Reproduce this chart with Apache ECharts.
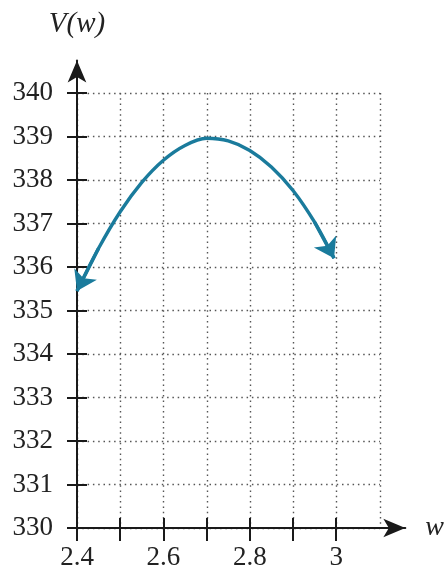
<!DOCTYPE html>
<html>
<head>
<meta charset="utf-8">
<script src="https://cdn.jsdelivr.net/npm/echarts@6/dist/echarts.min.js"></script>
<style>
html,body{margin:0;padding:0;background:#fff;}
#c{width:447px;height:572px;}
</style>
</head>
<body>
<div id="c"></div>
<script>
// ---- data ----
var curveW = [2.4, 2.45, 2.5, 2.55, 2.6, 2.65, 2.7, 2.75, 2.8, 2.85, 2.9, 2.95, 2.995];
var curveV = [335.45, 336.43, 337.27, 337.945, 338.455, 338.795, 338.96, 338.9, 338.68, 338.3, 337.76, 337.03, 336.2];
var xTickValues = [2.4, 2.5, 2.6, 2.7, 2.8, 2.9, 3.0];
var xLabelValues = [2.4, 2.6, 2.8, 3.0];
var yTickValues = [330, 331, 332, 333, 334, 335, 336, 337, 338, 339, 340];
var xName = 'w';
var yName = 'V(w)';
var xMin = 2.4, xMax = 3.1, xStep = 0.1;
var yMin = 330, yMax = 340, yStep = 1;
var xOuterMax = 3.16, yOuterMax = 340.75;

// ---- layout ----
var gLeft = 77, gTop = 93, innerW = 303, innerH = 435;
var pxX = innerW / (xMax - xMin), pxY = innerH / (yMax - yMin);
var outerW = (xOuterMax - xMin) * pxX;
var outerH = (yOuterMax - yMin) * pxY;
var outerTop = gTop + innerH - outerH;

var curveColor = '#1a7b9c';
var axisColor = '#1a1a1a';
var serif = '"Liberation Serif", "DejaVu Serif", serif';

var curveData = curveW.map(function (w, i) { return [w, curveV[i]]; });
var n = curveW.length;
function pt(i) { return [curveW[i], curveV[i]]; }
var arrowSegs = [
  { coords: [pt(1), pt(0)] },
  { coords: [pt(n - 2), pt(n - 1)] }
];

function gridSplit() { return { show: true, lineStyle: { color: '#555', width: 1.4, type: [1.5, 3.8] } }; }
function hidden() { return { show: false }; }
function tickStyle() { return { color: axisColor, width: 2 }; }

var option = {
  animation: false,
  backgroundColor: '#fff',
  grid: [
    { left: gLeft, top: gTop, width: innerW, height: innerH },
    { left: gLeft, top: outerTop, width: outerW, height: outerH }
  ],
  xAxis: [
    { type: 'value', gridIndex: 0, min: xMin, max: xMax, interval: xStep,
      axisLine: hidden(), axisTick: hidden(), axisLabel: hidden(), splitLine: gridSplit() },
    { type: 'value', gridIndex: 1, min: xMin, max: xOuterMax, position: 'bottom',
      axisLine: { show: true, onZero: false, symbol: ['none', 'arrow'], symbolSize: [14, 22],
        lineStyle: { color: axisColor, width: 2 } },
      axisTick: { show: true, inside: false, length: 13, customValues: xTickValues.slice(),
        lineStyle: tickStyle() },
      axisLabel: { show: true, customValues: xLabelValues.slice(), margin: 16,
        color: '#222', fontFamily: serif, fontSize: 27,
        formatter: function (v) { return String(+(+v).toFixed(1)); } },
      splitLine: hidden(),
      name: xName, nameLocation: 'end', nameGap: 20,
      nameTextStyle: { color: '#222', fontFamily: serif, fontSize: 28, fontStyle: 'italic', verticalAlign: 'middle' } },
    { type: 'value', gridIndex: 1, min: xMin, max: xOuterMax, position: 'bottom',
      axisLine: hidden(),
      axisTick: { show: true, inside: true, length: 10, customValues: xTickValues.slice(),
        lineStyle: tickStyle() },
      axisLabel: hidden(), splitLine: hidden() }
  ],
  yAxis: [
    { type: 'value', gridIndex: 0, min: yMin, max: yMax, interval: yStep,
      axisLine: hidden(), axisTick: hidden(), axisLabel: hidden(), splitLine: gridSplit() },
    { type: 'value', gridIndex: 1, min: yMin, max: yOuterMax, position: 'left',
      axisLine: { show: true, onZero: false, symbol: ['none', 'arrow'], symbolSize: [14, 22],
        lineStyle: { color: axisColor, width: 2 } },
      axisTick: { show: true, inside: false, length: 10, customValues: yTickValues.slice(),
        lineStyle: tickStyle() },
      axisLabel: { show: true, customValues: yTickValues.slice(), margin: 24,
        color: '#222', fontFamily: serif, fontSize: 27 },
      splitLine: hidden(),
      name: yName, nameLocation: 'end', nameGap: 22,
      nameTextStyle: { color: '#222', fontFamily: serif, fontSize: 29, fontStyle: 'italic', align: 'center' } },
    { type: 'value', gridIndex: 1, min: yMin, max: yOuterMax, position: 'left',
      axisLine: hidden(),
      axisTick: { show: true, inside: true, length: 10, customValues: yTickValues.slice(),
        lineStyle: tickStyle() },
      axisLabel: hidden(), splitLine: hidden() }
  ],
  series: [
    { type: 'line', xAxisIndex: 1, yAxisIndex: 1, data: curveData, smooth: 0.3,
      symbol: 'none', clip: false, lineStyle: { color: curveColor, width: 3.4 }, z: 5 },
    { type: 'lines', coordinateSystem: 'cartesian2d', xAxisIndex: 1, yAxisIndex: 1,
      data: arrowSegs, symbol: ['none', 'arrow'], symbolSize: 19, clip: false,
      lineStyle: { color: curveColor, width: 3.4, opacity: 1 }, z: 6 }
  ]
};
var chart = echarts.init(document.getElementById('c'), null, { renderer: 'canvas' });
chart.setOption(option);
</script>
</body>
</html>
